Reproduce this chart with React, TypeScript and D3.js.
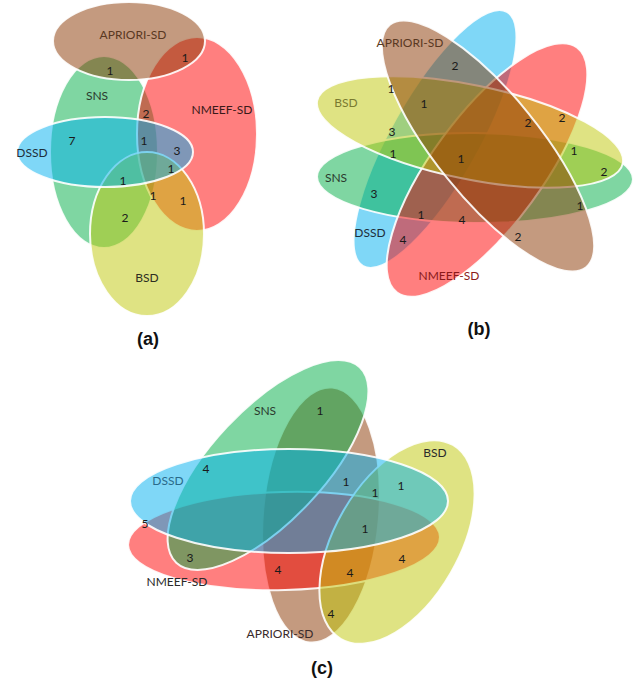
import React from "react";
import * as d3 from "d3";

// ---- data ----
const setNames = ["APRIORI-SD", "NMEEF-SD", "SNS", "DSSD", "BSD"];
const setColors = ["#8a3600", "#ff0000", "#00ae46", "#00b0f0", "#c0c808"];

// counts of each labelled region, per panel
const countsA = [1, 1, 2, 7, 1, 3, 1, 1, 1, 1, 2];
const countsB = [2, 1, 1, 3, 2, 2, 1, 1, 1, 2, 3, 1, 1, 4, 4, 2];
const countsC = [1, 4, 1, 1, 1, 5, 1, 3, 4, 4, 4, 4];
const panelTitles = ["(a)", "(b)", "(c)"];

// ---- layout ----
type Ell = { set: string; cx: number; cy: number; rx: number; ry: number; rot: number; label: [number, number]; labelColor: string };

const layoutA: Ell[] = [
  { set: "SNS", cx: 104, cy: 152, rx: 54, ry: 96, rot: 0, label: [97, 95], labelColor: "#2b3a2e" },
  { set: "NMEEF-SD", cx: 197, cy: 134, rx: 60, ry: 97, rot: 0, label: [222, 109], labelColor: "#3a1a1a" },
  { set: "APRIORI-SD", cx: 129, cy: 41, rx: 76, ry: 39, rot: 0, label: [133, 34], labelColor: "#5a3822" },
  { set: "BSD", cx: 147, cy: 234, rx: 57, ry: 82, rot: 0, label: [147, 277], labelColor: "#2e2e22" },
  { set: "DSSD", cx: 105, cy: 152, rx: 88, ry: 35, rot: 0, label: [32, 152], labelColor: "#1e2e3a" },
];
const posA: [number, number][] = [
  [110, 70], [185, 57], [146, 113], [72, 140], [144, 140], [177, 150], [171, 168], [123, 180], [153, 195], [183, 200], [125, 217],
];

const layoutB: Ell[] = [
  { set: "DSSD", cx: 435, cy: 139, rx: 146, ry: 44, rot: -60.5, label: [370, 232], labelColor: "#1e2e3a" },
  { set: "SNS", cx: 475, cy: 178, rx: 158, ry: 45, rot: 0.5, label: [336, 177], labelColor: "#2b3a2e" },
  { set: "NMEEF-SD", cx: 487, cy: 170, rx: 152, ry: 55, rot: -53.7, label: [449, 275], labelColor: "#8a1a1a" },
  { set: "BSD", cx: 470, cy: 132, rx: 156, ry: 47, rot: 11.6, label: [346, 102], labelColor: "#7a7a30" },
  { set: "APRIORI-SD", cx: 488, cy: 146, rx: 156, ry: 52, rot: 51, label: [410, 42], labelColor: "#5a3822" },
];
const posB: [number, number][] = [
  [455, 65], [391, 88], [424, 103], [392, 131], [528, 122], [562, 117], [393, 153], [461, 158], [574, 150], [604, 171],
  [374, 193], [580, 205], [421, 214], [462, 219], [403, 239], [518, 236],
];

const layoutC: Ell[] = [
  { set: "APRIORI-SD", cx: 321, cy: 515, rx: 58, ry: 128, rot: 5, label: [280, 633], labelColor: "#3a2a2a" },
  { set: "NMEEF-SD", cx: 284, cy: 541, rx: 156, ry: 49, rot: -1.5, label: [177, 581], labelColor: "#2a2a2a" },
  { set: "SNS", cx: 268, cy: 465, rx: 134, ry: 56, rot: -46.8, label: [265, 410], labelColor: "#2b3a2e" },
  { set: "BSD", cx: 397, cy: 542, rx: 112, ry: 62, rot: -60, label: [435, 452], labelColor: "#2a2a2a" },
  { set: "DSSD", cx: 289, cy: 501, rx: 159, ry: 52, rot: 0, label: [168, 480], labelColor: "#2a6a8a" },
];
const posC: [number, number][] = [
  [320, 410], [206, 468], [346, 481], [375, 492], [401, 485], [145, 523], [365, 528], [190, 557], [402, 558], [278, 569], [350, 572], [331, 613],
];

const titlePos: [number, number][] = [[148, 339], [479, 329], [322, 668]];

const color = d3.scaleOrdinal<string, string>().domain(setNames).range(setColors);
const FONT = "Lato, 'Open Sans', sans-serif";

function Panel({ layout, counts, pos }: { layout: Ell[]; counts: number[]; pos: [number, number][] }) {
  return (
    <g>
      {layout.map((e, i) => (
        <ellipse
          key={i}
          cx={e.cx}
          cy={e.cy}
          rx={e.rx}
          ry={e.ry}
          transform={`rotate(${e.rot} ${e.cx} ${e.cy})`}
          fill={color(e.set)}
          fillOpacity={0.5}
          stroke="#ffffff"
          strokeWidth={2}
          strokeOpacity={0.9}
        />
      ))}
      {layout.map((e, i) => (
        <text key={"l" + i} x={e.label[0]} y={e.label[1]} textAnchor="middle" dominantBaseline="central"
          fontFamily={FONT} fontSize={12} fill={e.labelColor}>
          {e.set}
        </text>
      ))}
      {counts.map((c, i) => (
        <text key={"c" + i} x={pos[i][0]} y={pos[i][1]} textAnchor="middle" dominantBaseline="central"
          fontFamily={FONT} fontSize={12} fill="#1a1a1a">
          {c}
        </text>
      ))}
    </g>
  );
}

export default function App() {
  return (
    <svg width={635} height={680} style={{ position: "absolute", left: 0, top: 0, background: "#ffffff" }}>
      <rect width={635} height={680} fill="#ffffff" />
      <Panel layout={layoutA} counts={countsA} pos={posA} />
      <Panel layout={layoutB} counts={countsB} pos={posB} />
      <Panel layout={layoutC} counts={countsC} pos={posC} />
      {panelTitles.map((t, i) => (
        <text key={t} x={titlePos[i][0]} y={titlePos[i][1]} textAnchor="middle" dominantBaseline="central"
          fontFamily="'Liberation Sans', Arial, sans-serif" fontWeight="bold" fontSize={18} fill="#111">
          {t}
        </text>
      ))}
    </svg>
  );
}
